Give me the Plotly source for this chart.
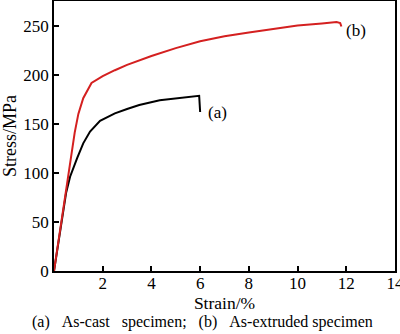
import plotly.graph_objects as go

# (a) As-cast specimen
strain_a = [0, 0.25, 0.5, 0.66, 0.8, 0.95, 1.2, 1.48, 1.89, 2.5, 3.0, 3.5, 4.34, 5.0, 5.5, 5.96, 6.0]
stress_a = [0, 40, 80, 96, 106, 115, 130, 142, 153, 160.5, 165, 169, 174, 176, 177.5, 178.5, 162]

# (b) As-extruded specimen
strain_b = [0, 0.25, 0.5, 0.66, 0.85, 1.0, 1.2, 1.54, 2.0, 2.5, 3.0, 4.0, 5.0, 6.0, 7.0, 8.0, 9.0, 10.0, 11.0, 11.6, 11.75, 11.8]
stress_b = [0, 41, 84, 112, 141, 160, 176, 191.5, 198.5, 204.5, 210, 219, 227, 234, 239, 243, 246.5, 250, 252, 253.5, 252.5, 249]

x_ticks = [2, 4, 6, 8, 10, 12, 14]
y_ticks = [0, 50, 100, 150, 200, 250]

FONT = "Liberation Serif, Times New Roman, serif"

fig = go.Figure()
fig.add_trace(go.Scatter(x=strain_a, y=stress_a, mode="lines",
                         line=dict(color="black", width=2), showlegend=False))
fig.add_trace(go.Scatter(x=strain_b, y=stress_b, mode="lines",
                         line=dict(color="#d42020", width=2), showlegend=False))

fig.add_annotation(x=6.7, y=161, text="(a)", showarrow=False,
                   font=dict(family=FONT, size=17, color="black"))
fig.add_annotation(x=12.4, y=245, text="(b)", showarrow=False,
                   font=dict(family=FONT, size=17, color="black"))

cap = ("(a)\u00a0\u00a0\u00a0As-cast\u00a0\u00a0\u00a0specimen;\u00a0\u00a0\u00a0(b)"
       "\u00a0\u00a0\u00a0As-extruded\u00a0specimen")
fig.add_annotation(xref="paper", yref="paper", x=-0.07, y=0, yshift=-51,
                   xanchor="left", yanchor="middle", text=cap, showarrow=False,
                   font=dict(family=FONT, size=16, color="black"))

axis_common = dict(showgrid=False, zeroline=False, showline=True, linecolor="black",
                   linewidth=1.5, mirror=True, ticks="inside", ticklen=5,
                   tickwidth=1.5, tickcolor="black", ticklabeloverflow="allow",
                   automargin=False,
                   tickfont=dict(family=FONT, size=17, color="black"))

fig.update_layout(
    width=400, height=334,
    margin=dict(l=54, r=5, t=1, b=63),
    paper_bgcolor="white", plot_bgcolor="white",
    xaxis=dict(range=[0, 14], tickvals=x_ticks, ticklabelstandoff=-4,
               title=dict(text="Strain/%", standoff=0,
                          font=dict(family=FONT, size=17.5, color="black")),
               **axis_common),
    yaxis=dict(range=[0, 275], tickvals=y_ticks,
               title=dict(text="Stress/MPa", standoff=6,
                          font=dict(family=FONT, size=18, color="black")),
               **axis_common),
)

fig.write_html("out.html")
